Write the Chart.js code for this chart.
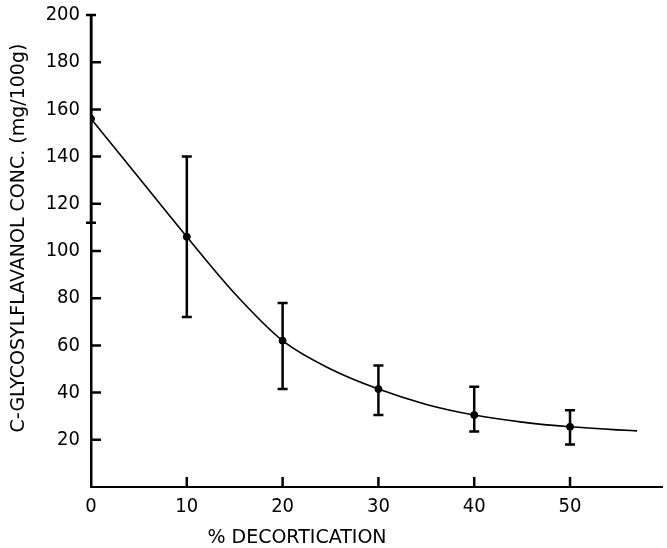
<!DOCTYPE html>
<html>
<head>
<meta charset="utf-8">
<script src="https://cdn.jsdelivr.net/npm/chart.js@4"></script>
<style>
  body { margin: 0; background: #fff; }
  #wrap { width: 667px; height: 548px; }
</style>
</head>
<body>
<div id="wrap"><canvas id="chart" width="667" height="548"></canvas></div>
<script>
// measured points (% decortication vs conc.)
const decort = [0, 10, 20, 30, 40, 50];
const conc = [156, 106, 62, 41.5, 30.5, 25.5];
const errLow = [112, 72, 41.5, 30.5, 23.5, 18];
const errHigh = [200, 140, 78, 51.5, 42.5, 32.5];

// fitted curve
const curveX = [0, 5, 10, 15, 20, 25, 30, 35, 40, 45, 50, 55, 57];
const curveY = [156, 131, 106, 82, 62, 50, 41.5, 35, 30.5, 27.5, 25.5, 24.2, 23.8];

const xTitle = '% DECORTICATION';
const yTitle = 'C-GLYCOSYLFLAVANOL CONC. (mg/100g)';

const FONT = "'DejaVu Sans Condensed', 'DejaVu Sans', sans-serif";
const TITLE_FONT = "'DejaVu Sans', sans-serif";

// error bars, inward ticks and axis titles
const extras = {
    id: 'extras',
    afterDraw(chart) {
        const c = chart.ctx;
        const xs = chart.scales.x;
        const ys = chart.scales.y;
        const area = chart.chartArea;
        c.save();
        c.strokeStyle = '#000';
        c.lineWidth = 2.5;
        decort.forEach((d, i) => {
            const px = xs.getPixelForValue(d);
            const top = ys.getPixelForValue(errHigh[i]);
            const bot = ys.getPixelForValue(errLow[i]);
            c.beginPath();
            c.moveTo(px, top); c.lineTo(px, bot);
            c.moveTo(px - 5, top); c.lineTo(px + 5, top);
            c.moveTo(px - 5, bot); c.lineTo(px + 5, bot);
            c.stroke();
        });

        // ticks pointing into the plot
        c.beginPath();
        c.lineWidth = 2.5;
        for (let v = 10; v <= 50; v += 10) {
            const px = xs.getPixelForValue(v);
            c.moveTo(px, area.bottom);
            c.lineTo(px, area.bottom - 10);
        }
        for (let v = 20; v <= 180; v += 20) {
            const py = ys.getPixelForValue(v);
            c.moveTo(area.left, py);
            c.lineTo(area.left + 10, py);
        }
        c.stroke();

        c.fillStyle = '#000';
        c.font = '19px ' + TITLE_FONT;
        c.textBaseline = 'middle';
        c.textAlign = 'center';
        c.fillText(xTitle, xs.getPixelForValue(21.5), 538);

        c.translate(19, 238);
        c.rotate(-Math.PI / 2);
        c.fillText(yTitle, 0, 0);
        c.restore();
    }
};

new Chart(document.getElementById('chart'), {
    type: 'scatter',
    data: {
        datasets: [
            {
                label: 'fit',
                data: curveX.map((x, i) => ({ x: x, y: curveY[i] })),
                showLine: true,
                cubicInterpolationMode: 'monotone',
                borderColor: '#000',
                borderWidth: 1.6,
                pointRadius: 0
            },
            {
                label: 'mean',
                data: decort.map((x, i) => ({ x: x, y: conc[i] })),
                backgroundColor: '#000',
                borderColor: '#000',
                pointRadius: 3.5
            }
        ]
    },
    options: {
        responsive: false,
        animation: false,
        layout: { padding: { top: 15, right: 0, bottom: 0, left: 0 } },
        plugins: { legend: { display: false }, tooltip: { enabled: false } },
        scales: {
            x: {
                type: 'linear',
                min: 0,
                max: 59.6,
                afterFit: s => { s.height = 61; },
                border: { color: '#000', width: 2 },
                grid: { display: false },
                ticks: {
                    stepSize: 10,
                    color: '#000',
                    padding: 0,
                    font: { family: FONT, size: 20 },
                    callback: v => (v > 50 ? '' : v)
                }
            },
            y: {
                min: 0,
                max: 200,
                afterFit: s => { s.width = 91; },
                border: { color: '#000', width: 2.5 },
                grid: { display: false },
                ticks: {
                    stepSize: 20,
                    color: '#000',
                    padding: 3,
                    font: { family: FONT, size: 20 },
                    callback: v => (v === 0 ? '' : v)
                }
            }
        }
    },
    plugins: [extras]
});
</script>
</body>
</html>
